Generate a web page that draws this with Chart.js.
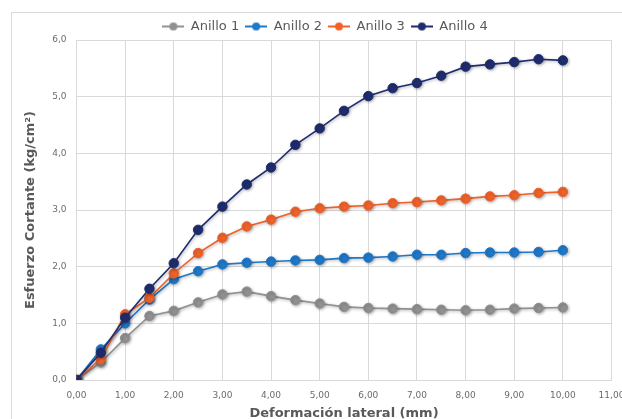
<!DOCTYPE html>
<html><head><meta charset="utf-8">
<script src="https://cdn.jsdelivr.net/npm/chart.js@4/dist/chart.umd.min.js"></script>
<style>html,body{margin:0;padding:0;background:#fff;}#wrap{width:622px;height:419px;}</style>
</head><body><div id="wrap"><canvas id="c" width="622" height="419"></canvas></div>
<script>
const deformacion = [0,0.5,1,1.5,2,2.5,3,3.5,4,4.5,5,5.5,6,6.5,7,7.5,8,8.5,9,9.5,10];
const anillo1 = [0,0.31,0.74,1.13,1.22,1.37,1.51,1.56,1.48,1.41,1.35,1.29,1.27,1.26,1.25,1.24,1.23,1.24,1.26,1.27,1.28];
const anillo2 = [0,0.54,1.00,1.42,1.78,1.92,2.04,2.07,2.09,2.11,2.12,2.15,2.16,2.18,2.21,2.21,2.24,2.25,2.25,2.26,2.29];
const anillo3 = [0,0.37,1.16,1.45,1.88,2.24,2.51,2.71,2.83,2.97,3.03,3.06,3.08,3.12,3.14,3.17,3.20,3.24,3.26,3.30,3.32];
const anillo4 = [0,0.48,1.10,1.61,2.06,2.65,3.06,3.45,3.75,4.15,4.44,4.75,5.01,5.15,5.24,5.37,5.53,5.57,5.61,5.66,5.64];
const seriesNames = ['Anillo 1','Anillo 2','Anillo 3','Anillo 4'];
const seriesColors = ['#919191','#1f78c8','#f0622a','#1f2d6e'];
const xTicks = [0,1,2,3,4,5,6,7,8,9,10,11];
const yTicks = [0,1,2,3,4,5,6];

const allSeries = [anillo1, anillo2, anillo3, anillo4];

function legendMarker(color){
  const cv = document.createElement('canvas');
  cv.width = 22; cv.height = 10;
  const g = cv.getContext('2d');
  g.strokeStyle = color; g.lineWidth = 2;
  g.beginPath(); g.moveTo(0,5); g.lineTo(22,5); g.stroke();
  g.fillStyle = color; g.beginPath(); g.arc(11,5,4,0,Math.PI*2); g.fill();
  return cv;
}

const datasets = allSeries.map((vals, i) => ({
  label: seriesNames[i],
  data: deformacion.map((x, j) => ({x: x, y: vals[j]})),
  borderColor: seriesColors[i],
  backgroundColor: seriesColors[i],
  pointBackgroundColor: seriesColors[i],
  pointBorderColor: seriesColors[i],
  pointRadius: 4.7,
  pointBorderWidth: 1,
  borderWidth: 1.6,
  tension: 0,
  order: allSeries.length - i
}));

const framePlugin = {
  id: 'frame',
  beforeLayout(chart){
    const lg = chart.legend;
    if (lg && !lg._patched){
      const f = lg.fit.bind(lg);
      lg.fit = function(){ f(); this.height -= 3; };
      lg._patched = true;
    }
  },
  beforeDraw(chart){
    const ctx = chart.ctx;
    ctx.save();
    ctx.fillStyle = '#fff';
    ctx.fillRect(0,0,chart.width,chart.height);
    ctx.strokeStyle = '#d9d9d9';
    ctx.lineWidth = 1;
    ctx.strokeRect(11.5, 12.5, 700, 500);
    ctx.restore();
  },
  beforeDatasetsDraw(chart){
    const ctx = chart.ctx;
    ctx.save();
    ctx.shadowColor = 'rgba(0,0,0,0.3)';
    ctx.shadowBlur = 3;
    ctx.shadowOffsetX = 1;
    ctx.shadowOffsetY = 1;
  },
  afterDatasetsDraw(chart){
    chart.ctx.restore();
  }
};

new Chart(document.getElementById('c'), {
  type: 'line',
  data: { datasets: datasets },
  plugins: [framePlugin],
  options: {
    responsive: false,
    devicePixelRatio: 1,
    animation: false,
    layout: { padding: { left: 38.5, right: 10.5, top: 14, bottom: 0 } },
    plugins: {
      tooltip: { enabled: false },
      legend: {
        position: 'top',
        labels: {
          usePointStyle: true,
          pointStyleWidth: 22,
          padding: 6,
          color: '#595959',
          font: { family: 'DejaVu Sans', size: 13 },
          generateLabels(chart){
            return chart.data.datasets.map((ds, i) => ({
              text: ds.label,
              pointStyle: legendMarker(seriesColors[i]),
              fillStyle: seriesColors[i],
              strokeStyle: seriesColors[i],
              lineWidth: 0,
              hidden: false,
              datasetIndex: i,
              fontColor: '#595959'
            }));
          }
        }
      }
    },
    scales: {
      x: {
        type: 'linear',
        min: xTicks[0], max: xTicks[xTicks.length-1],
        afterBuildTicks(scale){ scale.ticks = xTicks.map(v => ({value: v})); },
        afterFit(scale){ scale.height = 39; scale.paddingRight = 0; scale.paddingLeft = 0; },
        grid: { color: '#d9d9d9', drawTicks: false },
        border: { color: '#d9d9d9' },
        ticks: {
          padding: 10,
          color: '#6b6b6b',
          font: { family: 'DejaVu Sans', size: 9 },
          callback: v => Number(v).toFixed(2).replace('.', ',')
        },
        title: {
          display: true,
          text: 'Deformación lateral (mm)',
          color: '#595959',
          font: { family: 'DejaVu Sans', size: 13, weight: 'bold' },
          padding: { top: 0, bottom: -2 }
        }
      },
      y: {
        type: 'linear',
        min: yTicks[0], max: yTicks[yTicks.length-1],
        afterBuildTicks(scale){ scale.ticks = yTicks.map(v => ({value: v})); },
        afterFit(scale){ scale.width = 38; },
        grid: { color: '#d9d9d9', drawTicks: false },
        border: { color: '#d9d9d9' },
        ticks: {
          padding: 10,
          color: '#6b6b6b',
          font: { family: 'DejaVu Sans', size: 9 },
          callback: v => Number(v).toFixed(1).replace('.', ',')
        },
        title: {
          display: true,
          text: 'Esfuerzo Cortante (kg/cm²)',
          color: '#595959',
          font: { family: 'DejaVu Sans', size: 13, weight: 'bold' },
          padding: { top: -15.3, bottom: 0 }
        }
      }
    }
  }
});
</script>
</body></html>
